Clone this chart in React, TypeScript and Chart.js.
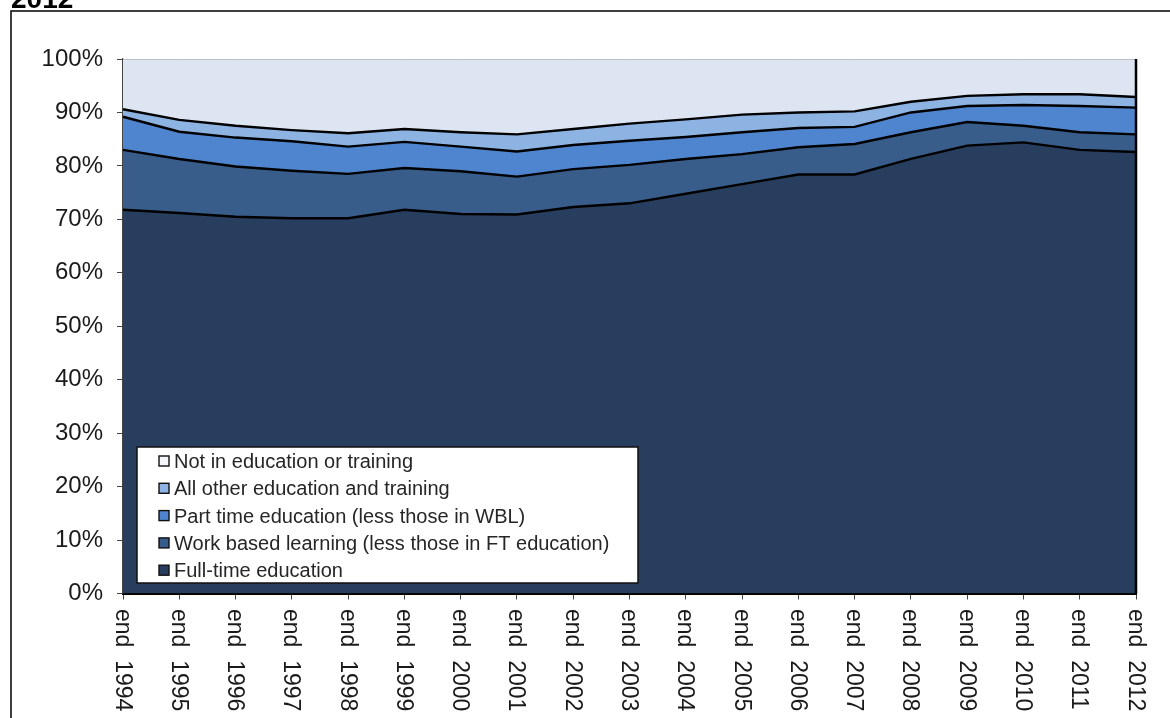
import React, { useEffect, useRef } from 'react';
import { Chart, registerables } from 'chart.js';

Chart.register(...registerables);

const categories = [
  'end 1994', 'end 1995', 'end 1996', 'end 1997', 'end 1998', 'end 1999', 'end 2000',
  'end 2001', 'end 2002', 'end 2003', 'end 2004', 'end 2005', 'end 2006', 'end 2007',
  'end 2008', 'end 2009', 'end 2010', 'end 2011', 'end 2012',
];

// shares (%) of each category, stacked bottom to top
const fullTime = [71.8, 71.2, 70.5, 70.2, 70.2, 71.8, 71.0, 70.9, 72.3, 73.0, 74.8, 76.6, 78.4, 78.4, 81.3, 83.8, 84.4, 83.0, 82.6];
const workBased = [11.2, 10.1, 9.4, 8.9, 8.3, 7.8, 8.0, 7.1, 7.1, 7.2, 6.5, 5.6, 5.1, 5.7, 5.0, 4.4, 3.1, 3.3, 3.3];
const partTime = [6.2, 5.1, 5.4, 5.5, 5.1, 4.9, 4.6, 4.7, 4.5, 4.5, 4.1, 4.1, 3.6, 3.2, 3.7, 3.0, 3.9, 4.9, 5.0];
const allOther = [1.4, 2.2, 2.2, 2.1, 2.5, 2.4, 2.7, 3.2, 3.0, 3.2, 3.3, 3.3, 2.9, 2.9, 2.0, 1.9, 2.0, 2.2, 2.0];
const notInEdu = [9.4, 11.4, 12.5, 13.3, 13.9, 13.1, 13.7, 14.1, 13.1, 12.1, 11.3, 10.4, 10.0, 9.8, 8.0, 6.9, 6.6, 6.6, 7.1];

const seriesLabels = [
  'Full-time education',
  'Work based learning (less those in FT education)',
  'Part time education (less those in WBL)',
  'All other education and training',
  'Not in education or training',
];
const seriesColors = ['#273E5E', '#385D8A', '#4F85CE', '#8DB3E2', '#DCE5F1'];
const legendMarkerColors = ['#273E5E', '#385D8A', '#4F85CE', '#8DB3E2', '#F4F6FA'];

const titleText = '2012';
const yTickMin = 0;
const yTickMax = 100;
const yTickStep = 10;

const FONT = '"Liberation Sans", Arial, Helvetica, sans-serif';

const overlayPlugin = {
  id: 'overlay',
  afterDraw(chart: any) {
    const ctx = chart.ctx as CanvasRenderingContext2D;
    const area = chart.chartArea;
    const xs = chart.scales.x;

    ctx.save();
    // outer frame
    ctx.strokeStyle = '#000';
    ctx.lineWidth = 1.5;
    ctx.beginPath();
    ctx.moveTo(11, 740);
    ctx.lineTo(11, 11);
    ctx.lineTo(1200, 11);
    ctx.stroke();

    // title (cut at top)
    ctx.fillStyle = '#000';
    ctx.font = `bold 28px ${FONT}`;
    ctx.textAlign = 'left';
    ctx.textBaseline = 'alphabetic';
    ctx.fillText(titleText, 11, 8);

    // right border of the areas
    ctx.strokeStyle = '#000';
    ctx.lineWidth = 2.5;
    ctx.beginPath();
    ctx.moveTo(area.right, area.top);
    ctx.lineTo(area.right, area.bottom);
    ctx.stroke();

    // rotated x labels (clockwise)
    ctx.fillStyle = '#1a1a1a';
    ctx.font = `23px ${FONT}`;
    categories.forEach((lab, i) => {
      const x = xs.getPixelForValue(i);
      ctx.save();
      ctx.translate(x, 609);
      ctx.rotate(Math.PI / 2);
      ctx.textAlign = 'left';
      ctx.textBaseline = 'alphabetic';
      ctx.fillText(lab.replace(' ', '  '), 0, 7.5);
      ctx.restore();
    });

    // legend box
    const lx = 137, ly = 447, lw = 501, lh = 136;
    ctx.fillStyle = '#fff';
    ctx.fillRect(lx, ly, lw, lh);
    ctx.strokeStyle = '#111';
    ctx.lineWidth = 1.5;
    ctx.strokeRect(lx, ly, lw, lh);
    ctx.font = `20px ${FONT}`;
    const order = [4, 3, 2, 1, 0];
    order.forEach((di, k) => {
      const cy = 461 + k * 27.3;
      ctx.fillStyle = legendMarkerColors[di];
      ctx.fillRect(159, cy - 5, 10, 10);
      ctx.strokeStyle = '#111';
      ctx.lineWidth = 1.4;
      ctx.strokeRect(159, cy - 5, 10, 10);
      ctx.fillStyle = '#262626';
      ctx.textAlign = 'left';
      ctx.textBaseline = 'alphabetic';
      ctx.fillText(chart.data.datasets[di].label, 174, cy + 7);
    });
    ctx.restore();
  },
};

export default function App() {
  const ref = useRef<HTMLCanvasElement | null>(null);

  useEffect(() => {
    if (!ref.current) return;
    const values = [fullTime, workBased, partTime, allOther, notInEdu];
    const datasets = values.map((v, i) => ({
      label: seriesLabels[i],
      data: v,
      backgroundColor: seriesColors[i],
      borderColor: i === 4 ? '#9a9a9a' : '#000',
      borderWidth: i === 4 ? 1 : 2.4,
      fill: i === 0 ? 'origin' : '-1',
      pointRadius: 0,
      tension: 0,
    }));
    const chart = new Chart(ref.current, {
      type: 'line',
      data: { labels: categories, datasets },
      options: {
        responsive: true,
        maintainAspectRatio: false,
        animation: false,
        layout: { padding: { top: 59, right: 34, left: 0, bottom: 0 } },
        plugins: { legend: { display: false }, tooltip: { enabled: false } },
        scales: {
          x: {
            offset: false,
            grid: { drawOnChartArea: false, drawTicks: true, tickLength: 6, color: '#444' },
            border: { display: true, color: '#000', width: 2 },
            ticks: { display: false },
            afterFit: (s: any) => { s.height = 124.5; },
          },
          y: {
            stacked: true,
            min: yTickMin,
            max: yTickMax,
            grid: { drawOnChartArea: false, drawTicks: true, tickLength: 6, color: '#444' },
            border: { display: true, color: '#444', width: 1.2 },
            ticks: {
              stepSize: yTickStep,
              padding: 14,
              color: '#1a1a1a',
              font: { family: FONT, size: 24 },
              callback: (v: any) => `${v}%`,
            },
            afterFit: (s: any) => { s.width = 123; },
          },
        },
      },
      plugins: [overlayPlugin],
    });
    return () => chart.destroy();
  }, []);

  return (
    <div style={{ position: 'fixed', left: 0, top: 0, width: 1170, height: 718, background: '#fff' }}>
      <canvas ref={ref} />
    </div>
  );
}
